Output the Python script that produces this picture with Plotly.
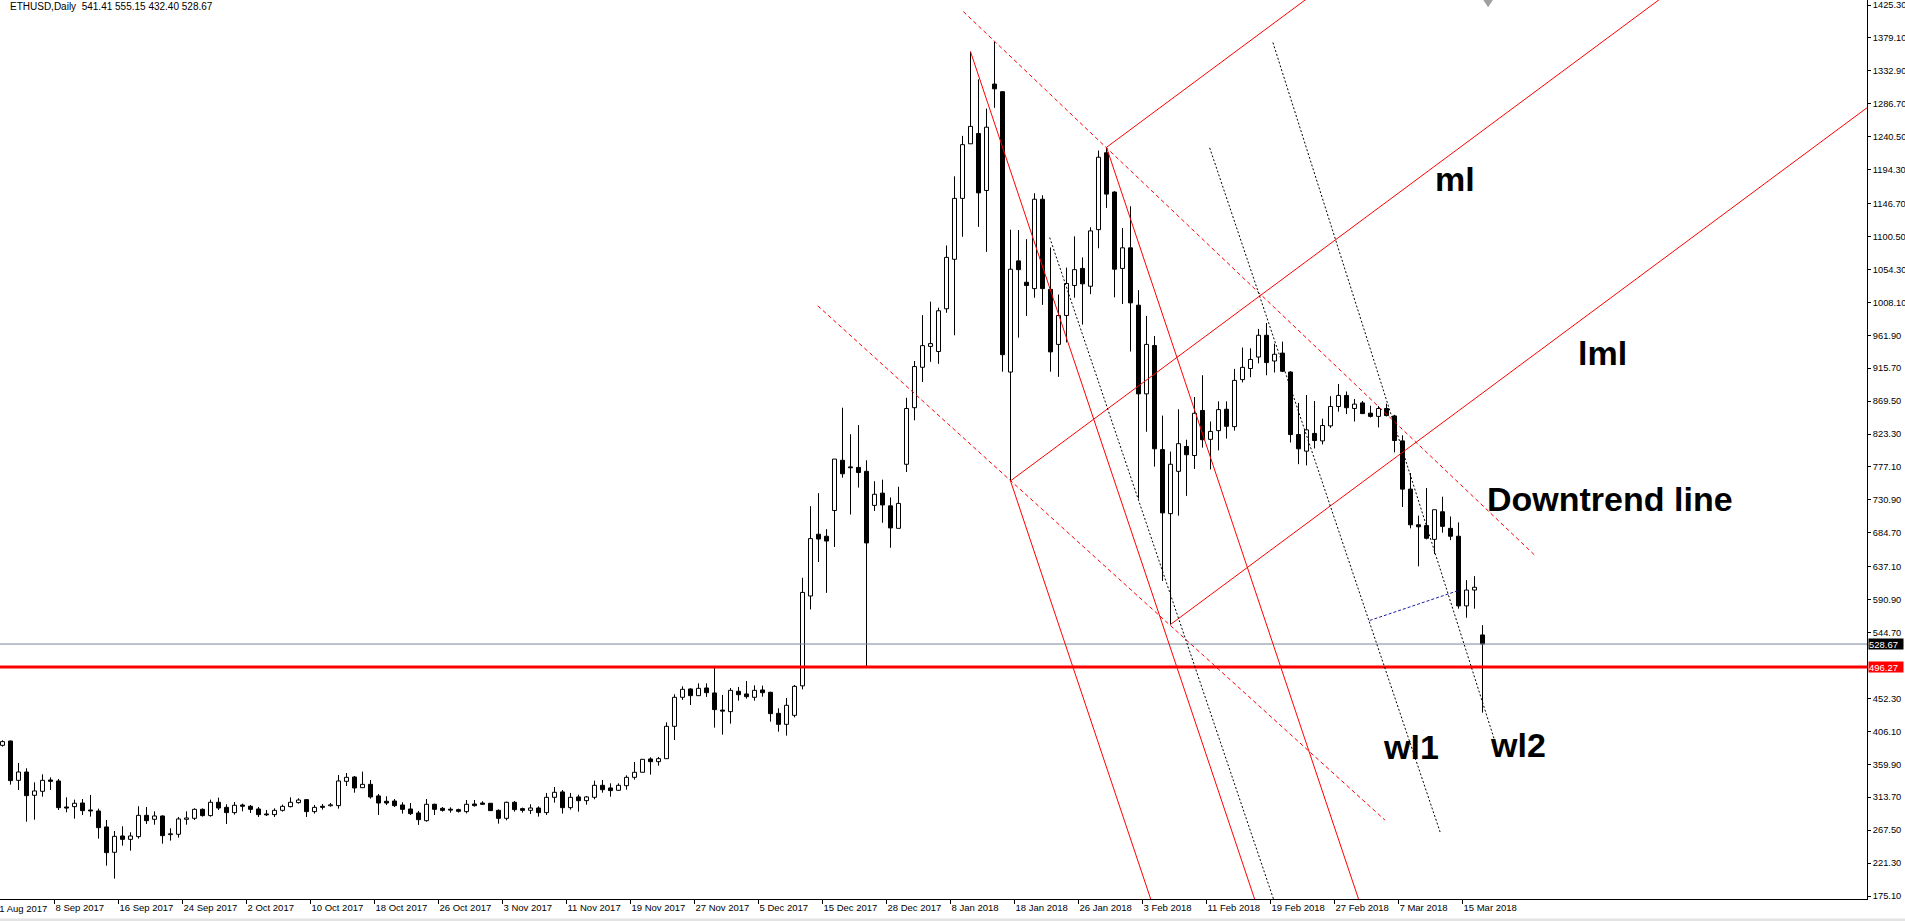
import plotly.graph_objects as go

# ETHUSD daily bars, bar index 0 .. 185 (2 Sep 2017 .. 18 Mar 2018)
opens = [386.5, 392.6, 337.4, 349.1, 316.4, 322.0, 337.9, 336.5, 300.0, 300.5,
         305.6, 295.8, 294.4, 272.0, 236.4, 259.3, 254.6, 258.4, 288.3, 282.7,
         287.4, 261.2, 261.7, 282.7, 284.1, 296.7, 287.9, 306.6, 299.5, 292.1,
         302.8, 301.0, 297.2, 290.2, 289.3, 295.3, 300.5, 306.1, 310.3, 293.5,
         301.0, 301.8, 301.9, 336.0, 342.1, 327.1, 331.8, 315.5, 308.0, 308.4,
         302.8, 297.2, 291.6, 280.8, 303.8, 298.1, 296.9, 296.3, 293.5, 304.2,
         305.6, 305.2, 295.3, 284.1, 306.6, 297.7, 295.3, 298.6, 292.1, 313.6,
         321.1, 299.1, 314.1, 308.9, 313.6, 330.4, 326.7, 323.4, 329.9, 341.6,
         348.7, 367.4, 363.6, 367.8, 413.2, 453.9, 465.6, 456.2, 467.0, 460.0,
         436.0, 433.8, 462.3, 458.6, 453.9, 464.2, 460.9, 431.4, 416.0, 428.6,
         470.0, 596.1, 682.7, 679.9, 716.0, 786.5, 777.0, 776.5, 771.0, 723.2,
         740.4, 722.6, 691.0, 780.9, 860.3, 917.0, 946.3, 939.1, 999.1, 1068.5,
         1154.0, 1230.6, 1245.0, 1165.1, 1314.4, 1303.7, 910.3, 1066.3, 1036.3, 1027.4,
         1152.8, 1026.3, 949.1, 989.7, 1031.8, 1055.7, 1030.7, 1110.1, 1218.0, 1162.9,
         1055.7, 1084.6, 1004.1, 879.7, 947.5, 801.5, 711.6, 771.0, 805.9, 793.2,
         856.4, 815.9, 828.1, 858.1, 833.7, 899.7, 915.3, 931.4, 961.9, 925.8,
         936.9, 910.3, 822.6, 799.3, 824.2, 813.7, 834.8, 862.0, 877.5, 859.2,
         867.0, 852.6, 848.1, 859.2, 848.7, 813.7, 746.0, 696.0, 694.9, 675.5,
         714.3, 691.0, 679.9, 582.2, 604.4, 541.41]
highs = [393.6, 393.0, 361.8, 354.3, 334.6, 345.8, 341.6, 339.3, 313.6, 310.3,
         311.2, 316.9, 297.7, 281.8, 266.3, 272.9, 264.5, 301.0, 300.0, 293.9,
         288.3, 270.1, 286.0, 293.9, 298.1, 298.1, 310.3, 313.1, 303.8, 307.0,
         304.7, 302.8, 300.0, 295.8, 298.1, 303.3, 313.6, 312.2, 311.2, 302.8,
         304.2, 305.6, 344.9, 347.7, 343.5, 349.6, 337.9, 318.3, 315.0, 311.2,
         306.6, 305.6, 294.4, 311.2, 304.7, 300.0, 299.5, 297.7, 309.8, 309.8,
         308.0, 305.6, 296.7, 307.5, 308.4, 299.1, 303.8, 300.9, 319.7, 328.1,
         323.9, 319.7, 317.3, 315.5, 337.0, 337.9, 333.2, 333.2, 344.4, 363.2,
         367.4, 369.7, 370.2, 418.8, 458.1, 469.3, 466.5, 473.5, 473.5, 496.3,
         457.2, 467.0, 468.4, 476.8, 470.7, 470.3, 461.8, 438.5, 452.9, 471.2,
         621.6, 722.1, 740.4, 689.9, 788.2, 860.3, 823.1, 835.9, 786.5, 757.1,
         759.3, 734.3, 749.3, 874.2, 925.8, 990.2, 1009.1, 1000.7, 1087.9, 1185.0,
         1241.7, 1359.9, 1321.0, 1280.0, 1373.8, 1304.4, 1110.1, 1109.5, 1096.8, 1161.2,
         1158.4, 1085.1, 1019.1, 1056.8, 1100.7, 1071.2, 1113.4, 1221.1, 1225.6, 1164.0,
         1112.3, 1142.9, 1025.2, 989.1, 960.8, 849.2, 798.7, 858.1, 815.4, 875.3,
         905.8, 840.9, 869.2, 869.2, 914.7, 944.7, 943.6, 970.8, 979.1, 950.2,
         953.0, 911.4, 867.0, 878.1, 869.7, 844.8, 876.4, 893.6, 883.1, 872.5,
         869.7, 863.1, 862.5, 865.9, 850.3, 821.5, 768.7, 708.8, 747.6, 717.1,
         735.4, 707.7, 699.3, 618.3, 623.9, 555.15]
lows = [384.7, 331.4, 323.9, 279.4, 282.2, 314.5, 323.9, 295.8, 292.5, 283.6,
        288.8, 286.5, 255.6, 217.7, 199.5, 245.8, 238.7, 255.6, 276.2, 275.2,
        248.6, 252.8, 257.0, 275.2, 281.8, 286.5, 286.5, 295.8, 276.2, 289.3,
        293.9, 291.6, 286.0, 287.4, 286.0, 293.5, 299.5, 304.7, 286.0, 290.7,
        296.3, 300.5, 297.7, 329.5, 320.1, 327.1, 311.7, 288.8, 302.8, 300.0,
        290.7, 288.8, 274.8, 279.4, 288.8, 293.5, 292.1, 292.1, 291.1, 300.5,
        302.8, 294.4, 276.6, 281.3, 293.5, 292.1, 290.2, 286.5, 288.8, 306.1,
        290.7, 296.3, 293.5, 303.3, 310.8, 320.1, 314.5, 323.0, 324.3, 338.4,
        348.7, 345.4, 358.0, 367.8, 394.0, 450.2, 443.1, 455.8, 454.4, 411.3,
        401.5, 417.0, 449.2, 452.0, 449.2, 454.8, 419.8, 405.7, 400.1, 425.8,
        465.0, 577.2, 643.8, 600.5, 664.9, 762.1, 710.4, 748.2, 496.3, 715.4,
        698.8, 663.8, 691.0, 770.0, 842.6, 896.4, 924.7, 921.9, 993.5, 961.9,
        1100.1, 1230.6, 1114.0, 1079.0, 1281.1, 910.8, 757.6, 958.6, 989.1, 1014.6,
        1004.6, 910.8, 903.6, 951.9, 1014.6, 976.9, 1019.6, 1084.0, 1140.6, 1015.2,
        1005.8, 939.1, 732.6, 826.5, 777.6, 617.2, 556.1, 708.8, 736.5, 774.3,
        804.3, 773.7, 800.4, 817.0, 828.1, 895.8, 903.1, 922.5, 905.8, 909.7,
        910.3, 811.5, 781.0, 779.3, 803.1, 808.7, 832.0, 854.8, 851.4, 840.9,
        851.4, 846.5, 832.6, 848.1, 797.6, 721.0, 691.0, 637.7, 675.5, 654.9,
        684.9, 674.4, 578.3, 565.6, 578.3, 432.40]
closes = [391.7, 337.0, 349.1, 315.9, 322.5, 337.4, 336.0, 299.1, 298.5, 305.2,
          294.9, 294.4, 271.0, 235.9, 258.8, 254.6, 259.3, 288.3, 280.8, 287.4,
          259.8, 262.4, 283.2, 284.6, 296.7, 287.9, 306.6, 298.6, 292.1, 302.4,
          301.0, 296.7, 289.3, 289.0, 295.3, 300.9, 306.6, 309.8, 293.5, 299.5,
          299.5, 303.0, 336.5, 341.6, 326.7, 331.8, 314.1, 305.6, 305.6, 301.9,
          296.7, 290.7, 282.2, 303.8, 296.7, 295.3, 295.6, 293.9, 303.8, 301.9,
          303.8, 294.9, 284.1, 306.6, 296.3, 295.3, 298.6, 292.1, 313.6, 320.6,
          299.1, 313.6, 308.9, 314.1, 330.4, 324.3, 323.0, 330.4, 341.6, 348.7,
          366.9, 363.6, 367.8, 413.2, 453.9, 465.1, 456.2, 466.5, 460.4, 436.6,
          434.5, 463.7, 457.6, 454.8, 463.7, 460.4, 431.0, 416.0, 442.7, 469.3,
          601.1, 676.6, 676.0, 673.2, 788.2, 767.6, 776.0, 769.3, 670.5, 738.8,
          723.8, 691.6, 726.0, 859.2, 918.0, 947.4, 950.2, 996.3, 1071.2, 1154.0,
          1229.4, 1255.0, 1161.7, 1253.9, 1307.7, 934.7, 1054.6, 1054.0, 1031.8, 1152.8,
          1027.4, 938.6, 989.7, 1034.6, 1054.0, 1034.1, 1108.4, 1211.7, 1160.0, 1054.6,
          1084.6, 1007.4, 879.7, 949.1, 802.6, 712.7, 780.9, 809.8, 794.3, 852.5,
          815.4, 827.0, 857.6, 834.2, 898.6, 916.9, 928.0, 961.9, 923.6, 935.3,
          911.4, 822.6, 802.6, 829.2, 814.2, 835.3, 862.0, 877.5, 860.3, 865.3,
          852.0, 848.1, 859.2, 849.2, 814.2, 746.0, 696.0, 693.2, 677.1, 717.1,
          693.8, 679.9, 582.2, 604.4, 608.3, 528.67]

# date scale labels, one every 8 bars
tick_bars = [-2 + 8 * j for j in range(24)]
tick_dates = ["31 Aug 2017", "8 Sep 2017", "16 Sep 2017", "24 Sep 2017", "2 Oct 2017",
              "10 Oct 2017", "18 Oct 2017", "26 Oct 2017", "3 Nov 2017", "11 Nov 2017",
              "19 Nov 2017", "27 Nov 2017", "5 Dec 2017", "15 Dec 2017", "28 Dec 2017",
              "8 Jan 2018", "18 Jan 2018", "26 Jan 2018", "3 Feb 2018", "11 Feb 2018",
              "19 Feb 2018", "27 Feb 2018", "7 Mar 2018", "15 Mar 2018"]
price_ticks = ["1425.30", "1379.10", "1332.90", "1286.70", "1240.50", "1194.30",
               "1146.70", "1100.50", "1054.30", "1008.10", "961.90", "915.70",
               "869.50", "823.30", "777.10", "730.90", "684.70", "637.10", "590.90",
               "544.70", "452.30", "406.10", "359.90", "313.70", "267.50", "221.30",
               "175.10"]

symbol = "ETHUSD,Daily"
level_price = 496.27

# pitchfork points: (bar, price)
fork_down = [(121, highs[121]), (126, lows[126]), (138, highs[138])]
fork_up = [(126, lows[126]), (138, highs[138]), (146, lows[146])]

# trend lines: ((bar1, price1), (bar2, price2))
dashed_red = [((120.1, 1416.1), (191.5, 653.6)),
              ((101.9, 1003.3), (172.8, 281.7))]
dotted_black = [((130.9, 1099.0), (159.5, 150.0)),
                ((150.9, 1224.9), (179.7, 264.9)),
                ((158.8, 1372.7), (186.5, 394.0))]
blue_line = ((170.9, 561.7), (181.9, 603.4))

notes = ["ml", "lml", "Downtrend line", "wl1", "wl2"]
note_at = [(178.8, 1181.2), (196.7, 937.0), (185.3, 732.2), (172.3, 384.2), (185.7, 386.3)]

n = len(closes)
bars = list(range(n))
x_range = [-0.3125, -0.3125 + 1867 / 8]
y_range = [170.89, 170.89 + 899 * 1.4032]


def pitchfork(points, k_end):
    (ka, pa), (k1, p1), (k2, p2) = points
    km, pm = (k1 + k2) / 2, (p1 + p2) / 2
    slope = (pm - pa) / (km - ka)
    xs, ys = [], []
    for k, p in points:
        xs += [k, k_end, None]
        ys += [p, p + slope * (k_end - k), None]
    return xs, ys


def segments(lines):
    xs, ys = [], []
    for (k1, p1), (k2, p2) in lines:
        xs += [k1, k2, None]
        ys += [p1, p2, None]
    return xs, ys


fig = go.Figure()

up = [i for i in bars if closes[i] >= opens[i]]
down = [i for i in bars if closes[i] < opens[i]]
for idx, fill in ((up, "white"), (down, "black")):
    fig.add_trace(go.Bar(
        x=idx,
        base=[min(opens[i], closes[i]) for i in idx],
        y=[max(abs(closes[i] - opens[i]), 1.2) for i in idx],
        width=0.5,
        marker=dict(color=fill, line=dict(color="black", width=1)),
        hoverinfo="skip"))

wx, wy = [], []
for i in bars:
    top, bot = max(opens[i], closes[i]), min(opens[i], closes[i])
    wx += [i, i, None, i, i, None]
    wy += [top, highs[i], None, lows[i], bot, None]
fig.add_trace(go.Scatter(x=wx, y=wy, mode="lines", line=dict(color="black", width=1),
                         hoverinfo="skip"))

# horizontal levels
fig.add_trace(go.Scatter(x=x_range, y=[closes[-1]] * 2, mode="lines",
                         line=dict(color="#778899", width=1), hoverinfo="skip"))
fig.add_trace(go.Scatter(x=x_range, y=[level_price] * 2, mode="lines",
                         line=dict(color="#ff0000", width=3), hoverinfo="skip"))

for pts, k_end in ((fork_down, 185), (fork_up, 240)):
    fx, fy = pitchfork(pts, k_end)
    fig.add_trace(go.Scatter(x=fx, y=fy, mode="lines", line=dict(color="#ff0000", width=1),
                             hoverinfo="skip"))

dx, dy = segments(dashed_red)
fig.add_trace(go.Scatter(x=dx, y=dy, mode="lines",
                         line=dict(color="#ff0000", width=1, dash="4px,3px"), hoverinfo="skip"))
bx, by = segments(dotted_black)
fig.add_trace(go.Scatter(x=bx, y=by, mode="lines",
                         line=dict(color="black", width=1, dash="2px,2px"), hoverinfo="skip"))
lx, ly = segments([blue_line])
fig.add_trace(go.Scatter(x=lx, y=ly, mode="lines",
                         line=dict(color="#1a1aa6", width=1, dash="3px,2px"), hoverinfo="skip"))

for text, (k, p) in zip(notes, note_at):
    fig.add_annotation(x=k, y=p, xref="x", yref="y", text="<b>%s</b>" % text,
                       showarrow=False, xanchor="left", yanchor="middle",
                       font=dict(family="Liberation Sans", size=34, color="black"))

# price tags on the scale
for price, bg in ((closes[-1], "black"), (level_price, "#ff0000")):
    fig.add_annotation(x=1, y=price, xref="paper", yref="y", text="%.2f" % price,
                       showarrow=False, xanchor="left", yanchor="middle", xshift=1,
                       width=34, height=10, align="left", bgcolor=bg, borderpad=0,
                       font=dict(family="Liberation Sans", size=9.5, color="white"))

# first date label sits left of the visible bars, so it is cut by the window edge
fig.add_annotation(x=0, y=0, xref="paper", yref="paper", text=tick_dates[0], showarrow=False,
                   xanchor="left", yanchor="middle", xshift=-8, yshift=-9,
                   font=dict(family="Liberation Sans", size=9.5, color="black"))

header = "%s\u00a0\u00a0%.2f %.2f %.2f %.2f" % (symbol, opens[-1], highs[-1], lows[-1], closes[-1])
fig.add_annotation(x=0, y=1, xref="paper", yref="paper", text=header, showarrow=False,
                   xanchor="left", yanchor="top", xshift=8, yshift=1,
                   font=dict(family="Liberation Sans", size=10, color="black"))

# chart shift marker and bottom status strip
fig.add_shape(type="path", xref="x", yref="paper",
              path="M 185.1,1 L 186.3,1 L 185.7,0.992 Z",
              fillcolor="#a0a0a0", line=dict(width=0))
fig.add_shape(type="rect", xref="paper", yref="paper", x0=0, x1=1.03,
              y0=-0.0245, y1=-0.0218, fillcolor="#e3e3e3", line=dict(width=0))

fig.update_layout(
    width=1905, height=921,
    margin=dict(l=0, r=38, t=0, b=22),
    paper_bgcolor="white", plot_bgcolor="white",
    showlegend=False, barmode="overlay",
    font=dict(family="Liberation Sans", size=10, color="black"))
fig.update_xaxes(range=x_range, tickvals=[b + 0.5 for b in tick_bars], ticktext=tick_dates,
                 ticks="outside", ticklen=4, tickcolor="black", ticklabelposition="outside right",
                 showline=True, linecolor="black", linewidth=1, showgrid=False, zeroline=False,
                 tickfont=dict(size=9.5), automargin=False)
fig.update_yaxes(range=y_range, side="right", tickvals=[float(t) for t in price_ticks],
                 ticktext=price_ticks, ticks="outside", ticklen=3, tickcolor="black",
                 showline=True, linecolor="black", linewidth=1, showgrid=False, zeroline=False,
                 tickfont=dict(size=9.3), automargin=False)

fig.write_html("out.html", config={"displayModeBar": False},
               post_script="document.body.style.margin='0';document.body.style.overflow='hidden';")
